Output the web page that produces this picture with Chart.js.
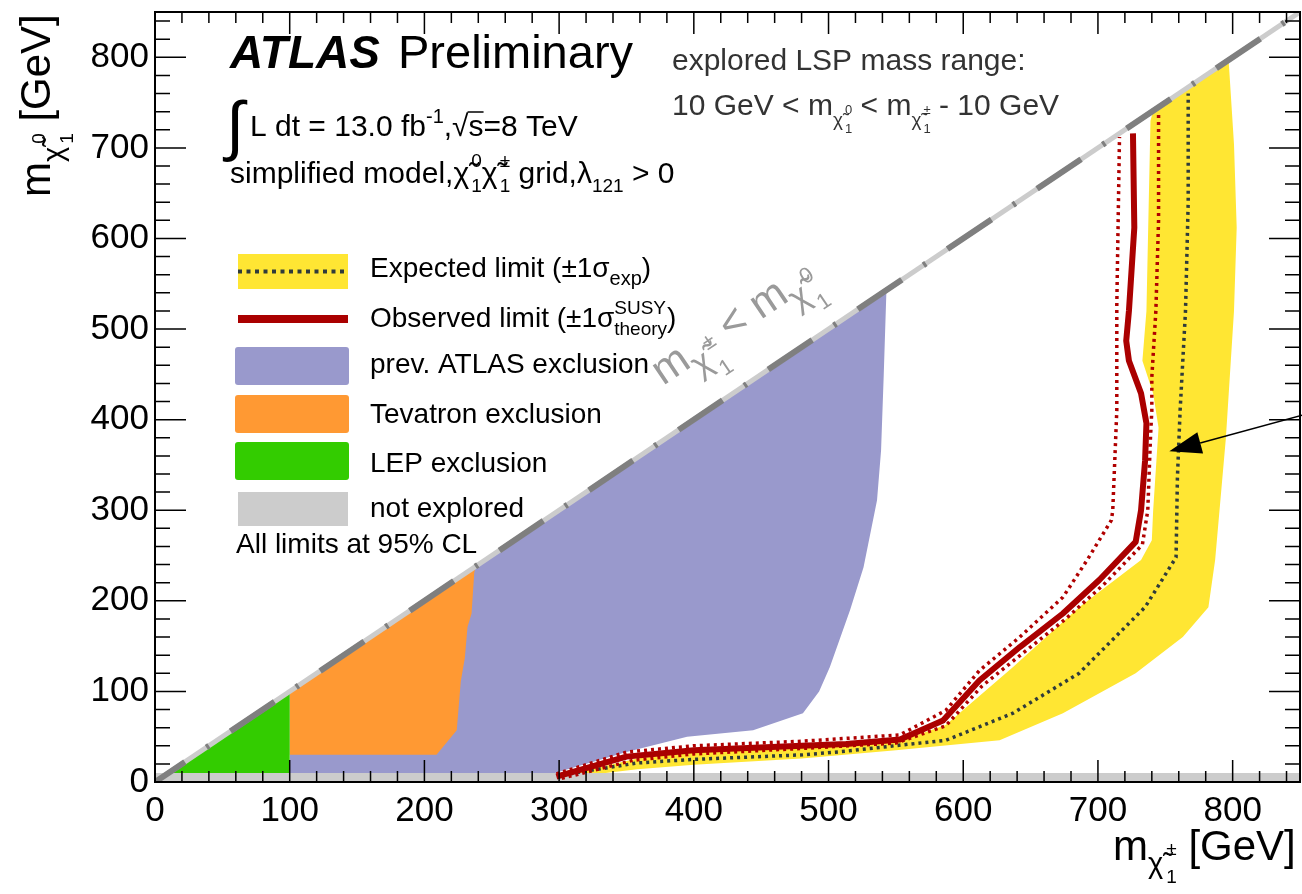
<!DOCTYPE html>
<html>
<head>
<meta charset="utf-8">
<script src="https://cdn.jsdelivr.net/npm/chart.js@4.4.1/dist/chart.umd.min.js"></script>
<style>
  html, body { margin: 0; padding: 0; background: #fff; }
  #wrap { width: 1302px; height: 894px; position: relative; }
</style>
</head>
<body>
<div id="wrap"><canvas id="limitChart"></canvas></div>
<script>
// ATLAS chargino/neutralino exclusion plane (GeV)

const xTicks = [0, 100, 200, 300, 400, 500, 600, 700, 800];
const yTicks = [0, 100, 200, 300, 400, 500, 600, 700, 800];
const axisMax = 850;
const minorStep = 20;

const lepExcl = [[10, 10], [100, 10], [100, 100]];
const tevatronExcl = [[100, 30], [209, 30], [224, 57], [227, 111], [230, 137], [232, 171],
  [235, 186], [237, 231], [238, 238], [100, 100]];
const prevAtlasExcl = [[100, 10], [295, 9], [350, 33], [395, 50], [444, 57], [481, 76],
  [493, 100], [501, 127], [516, 190], [526, 237], [536, 311], [539, 366], [541, 450],
  [543, 543], [100, 100]];
const expectedBand = [[300, 4], [358, 14], [400, 19], [480, 26], [550, 35], [627, 46],
  [674, 76], [728, 120], [763, 160], [782, 193], [787, 245], [795, 380], [801, 520],
  [803, 612], [801, 704], [797, 797], [741, 741], [739, 730], [736, 520], [733, 465],
  [741, 429], [745, 391], [741, 300], [740, 267], [732, 245], [686, 193], [637, 127],
  [587, 63], [550, 44], [480, 38], [400, 33], [358, 26], [300, 6]];
const expected = [[303, 8], [358, 21], [400, 25], [481, 30], [513, 34], [555, 41], [587, 46],
  [637, 76], [686, 120], [735, 193], [758, 248], [759, 336], [761, 410], [765, 520],
  [767, 640], [767, 760]];
const observed = [[298, 6], [350, 28], [400, 35], [480, 40], [513, 42], [553, 47], [585, 68],
  [612, 112], [642, 149], [674, 186], [701, 223], [728, 265], [732, 300], [735, 355],
  [736, 396], [732, 429], [723, 465], [721, 487], [723, 520], [727, 612], [726, 716]];
const obsTheoryDown = [[298, 9], [350, 33], [400, 40], [480, 45], [553, 52], [587, 79],
  [612, 123], [642, 160], [674, 204], [692, 245], [710, 289], [711, 300], [714, 410],
  [714, 526], [716, 712]];
const obsTheoryUp = [[302, 4], [355, 24], [400, 31], [480, 37], [550, 43], [587, 62],
  [614, 106], [645, 143], [676, 180], [705, 219], [733, 262], [737, 300], [739, 380],
  [740, 410], [740, 447], [743, 520], [745, 620], [745, 738]];
const notExploredLow = [[0, 0], [850, 0], [850, 10], [0, 10]];
const kinematicLine = [[0, 0], [850, 850]];
const arrowTail = [852, 405];
const arrowTip = [753, 365];

const FONT = '"Liberation Sans", Arial, Helvetica, sans-serif';
const pts = arr => arr.map(([x, y]) => ({ x, y }));

// draw a run of text pieces: [text, sizeFactor, baselineShift(em), flags, dx(em)]
// flag 'b' = stack on previous piece, 'o' = overline
function rich(ctx, x, y, parts, size, opt = {}) {
  const items = [];
  let cx = 0, ps = 0, pe = 0;
  for (const [t, f = 1, dy = 0, fl = '', dx = 0] of parts) {
    const font = `${opt.style || ''} ${Math.round(size * f)}px ${FONT}`;
    ctx.font = font;
    const w = ctx.measureText(t).width;
    const back = fl.includes('b');
    const sx = (back ? ps : cx) + dx * size;
    items.push({ t, font, sx, w, dy: dy * size, o: fl.includes('o'), sz: size * f });
    if (back) { pe = Math.max(pe, sx + w); cx = pe; }
    else { ps = sx; pe = sx + w; cx = pe; }
  }
  const off = opt.align === 'right' ? -cx : opt.align === 'center' ? -cx / 2 : 0;
  ctx.save();
  ctx.fillStyle = opt.color || '#000';
  ctx.strokeStyle = opt.color || '#000';
  ctx.textAlign = 'left';
  ctx.textBaseline = 'alphabetic';
  for (const it of items) {
    ctx.font = it.font;
    ctx.fillText(it.t, x + off + it.sx, y + it.dy);
    if (it.o) {
      ctx.lineWidth = 1.5;
      ctx.beginPath();
      ctx.moveTo(x + off + it.sx - 1, y + it.dy - it.sz * 0.8);
      ctx.lineTo(x + off + it.sx + it.w, y + it.dy - it.sz * 0.8);
      ctx.stroke();
    }
  }
  ctx.restore();
  return cx;
}

// chi-tilde with stacked upper/lower index
const chi = (up, f, dy, sf, upDy, loDy) => [
  ['χ̃', f, dy], [up, sf, upDy, '', 0.07], ['1', sf, loDy, 'b']
];

const frameAndTicks = {
  id: 'frameAndTicks',
  afterDatasetsDraw(chart) {
    const { ctx, chartArea: a, scales: { x, y } } = chart;
    ctx.save();
    ctx.strokeStyle = '#000';
    ctx.lineWidth = 1.5;
    ctx.beginPath();
    for (let v = 0; v <= axisMax; v += minorStep) {
      const major = v % 100 === 0;
      const px = x.getPixelForValue(v);
      const lx = major ? 22 : 11;
      ctx.moveTo(px, a.bottom); ctx.lineTo(px, a.bottom - lx);
      ctx.moveTo(px, a.top); ctx.lineTo(px, a.top + lx);
      const py = y.getPixelForValue(v);
      const ly = major ? 31 : 15;
      ctx.moveTo(a.left, py); ctx.lineTo(a.left + ly, py);
      ctx.moveTo(a.right, py); ctx.lineTo(a.right - ly, py);
    }
    ctx.stroke();
    ctx.lineWidth = 2;
    ctx.strokeRect(a.left, a.top, a.right - a.left, a.bottom - a.top);

    // arrow pointing at the expected band
    const tx = x.getPixelForValue(arrowTip[0]), ty = y.getPixelForValue(arrowTip[1]);
    const sx = x.getPixelForValue(arrowTail[0]), sy = y.getPixelForValue(arrowTail[1]);
    const ang = Math.atan2(sy - ty, sx - tx);
    const len = 32, hw = 11;
    const bx = tx + Math.cos(ang) * len, by = ty + Math.sin(ang) * len;
    ctx.lineWidth = 1.5;
    ctx.beginPath();
    ctx.moveTo(sx, sy); ctx.lineTo(bx, by);
    ctx.stroke();
    ctx.fillStyle = '#000';
    ctx.beginPath();
    ctx.moveTo(tx, ty);
    ctx.lineTo(bx - Math.sin(ang) * hw, by + Math.cos(ang) * hw);
    ctx.lineTo(bx + Math.sin(ang) * hw, by - Math.cos(ang) * hw);
    ctx.closePath();
    ctx.fill();
    ctx.restore();
  }
};

const labels = {
  id: 'labels',
  afterDraw(chart) {
    const { ctx } = chart;
    // ATLAS label block
    rich(ctx, 230, 68, [['ATLAS']], 46, { style: 'italic bold' });
    rich(ctx, 398, 68, [['Preliminary']], 47);
    rich(ctx, 226, 148, [['∫']], 66);
    rich(ctx, 250, 136, [['L dt = 13.0 fb'], ['-1', 0.65, -0.42], [',√'], ['s', 1, 0, 'o'], ['=8 TeV']], 30);
    rich(ctx, 230, 183, [['simplified model,'], ...chi('0', 1, 0, 0.62, -0.55, 0.3),
      ...chi('±', 1, 0, 0.62, -0.55, 0.3), [' grid,λ'], ['121', 0.62, 0.3], [' > 0']], 30);
    rich(ctx, 672, 70, [['explored LSP mass range:']], 30, { color: '#333' });
    rich(ctx, 672, 115, [['10 GeV < m'], ...chi('0', 0.62, 0.35, 0.42, -0.05, 0.6),
      [' < m'], ...chi('±', 0.62, 0.35, 0.42, -0.05, 0.6), [' - 10 GeV']], 30, { color: '#333' });

    // legend
    ctx.save();
    ctx.fillStyle = '#ffe633';
    ctx.fillRect(238, 254, 110, 35);
    ctx.strokeStyle = '#2f3b3b';
    ctx.lineWidth = 4;
    ctx.setLineDash([4, 4.5]);
    ctx.beginPath(); ctx.moveTo(238, 271.5); ctx.lineTo(348, 271.5); ctx.stroke();
    ctx.setLineDash([]);
    ctx.fillStyle = '#aa0000';
    ctx.fillRect(238, 315, 110, 8);
    const boxes = [['#9999cc', 347], ['#ff9933', 395], ['#33cc00', 442]];
    for (const [c, top] of boxes) {
      ctx.fillStyle = c;
      ctx.beginPath();
      ctx.roundRect(235, top, 114, 38, 3);
      ctx.fill();
    }
    ctx.fillStyle = '#cccccc';
    ctx.fillRect(238, 492, 110, 34);
    ctx.restore();
    const ls = 28;
    rich(ctx, 370, 277, [['Expected limit (±1σ'], ['exp', 0.7, 0.3], [')']], ls);
    rich(ctx, 370, 327, [['Observed limit (±1σ'], ['SUSY', 0.68, -0.45], ['theory', 0.68, 0.3, 'b'], [')']], ls);
    rich(ctx, 370, 373, [['prev. ATLAS exclusion']], ls);
    rich(ctx, 370, 423, [['Tevatron exclusion']], ls);
    rich(ctx, 370, 472, [['LEP exclusion']], ls);
    rich(ctx, 370, 517, [['not explored']], ls);
    rich(ctx, 236, 553, [['All limits at 95% CL']], ls);

    // label along the kinematic boundary
    ctx.save();
    ctx.translate(663, 386);
    ctx.rotate(-34 * Math.PI / 180);
    rich(ctx, 0, 0, [['m'], ...chi('±', 0.8, 0.3, 0.5, -0.1, 0.62),
      [' < m'], ...chi('0', 0.8, 0.3, 0.5, -0.1, 0.62)], 43, { color: '#9a9a9a' });
    ctx.restore();

    // axis titles
    rich(ctx, 1113, 860, [['m'], ...chi('±', 0.7, 0.3, 0.45, -0.12, 0.55), [' [GeV]']], 42);
    ctx.save();
    ctx.translate(50, 197);
    ctx.rotate(-Math.PI / 2);
    rich(ctx, 0, 0, [['m'], ...chi('0', 0.7, 0.3, 0.45, -0.12, 0.55), [' [GeV]']], 42);
    ctx.restore();
  }
};

const area = (data, color, order) => ({
  data: pts(data), backgroundColor: color, borderColor: 'rgba(0,0,0,0)', borderWidth: 0,
  fill: 'shape', pointRadius: 0, order
});
const curve = (data, color, width, dash, order, extra = {}) => Object.assign({
  data: pts(data), borderColor: color, borderWidth: width, borderDash: dash,
  borderCapStyle: 'butt', fill: false, pointRadius: 0, order
}, extra);

new Chart(document.getElementById('limitChart'), {
  type: 'line',
  data: {
    datasets: [
      area(prevAtlasExcl, '#9999cc', 20),
      area(tevatronExcl, '#ff9933', 19),
      area(lepExcl, '#33cc00', 18),
      area(expectedBand, '#ffe633', 17),
      area(notExploredLow, '#cccccc', 16),
      curve(kinematicLine, '#cccccc', 5, [], 15),
      curve(kinematicLine, '#7f7f7f', 6, [53, 26, 3, 26], 14, { borderDashOffset: 17 }),
      curve(expected, '#2f3b3b', 3.5, [3, 4], 13),
      curve(obsTheoryDown, '#b00000', 3.5, [3, 4], 12),
      curve(obsTheoryUp, '#b00000', 3.5, [3, 4], 11),
      curve(observed, '#aa0000', 6, [], 10, { borderJoinStyle: 'round' })
    ]
  },
  options: {
    responsive: true,
    maintainAspectRatio: false,
    animation: false,
    events: [],
    layout: { padding: { left: 0, right: 2, top: 12, bottom: 0 } },
    plugins: {
      legend: { display: false },
      tooltip: { enabled: false }
    },
    scales: {
      x: {
        type: 'linear', min: 0, max: axisMax,
        grid: { display: false, drawTicks: false },
        border: { display: false },
        ticks: { color: '#000', font: { family: FONT, size: 35 }, padding: 8, autoSkip: false, maxRotation: 0 },
        afterBuildTicks: s => { s.ticks = xTicks.map(v => ({ value: v })); },
        afterFit: s => { s.height = 112; s.paddingLeft = 0; s.paddingRight = 0; }
      },
      y: {
        type: 'linear', min: 0, max: axisMax,
        grid: { display: false, drawTicks: false },
        border: { display: false },
        ticks: { color: '#000', font: { family: FONT, size: 35 }, padding: 6, autoSkip: false },
        afterBuildTicks: s => { s.ticks = yTicks.map(v => ({ value: v })); },
        afterFit: s => { s.width = 155; s.paddingTop = 0; s.paddingBottom = 0; }
      }
    }
  },
  plugins: [frameAndTicks, labels]
});
</script>
</body>
</html>
